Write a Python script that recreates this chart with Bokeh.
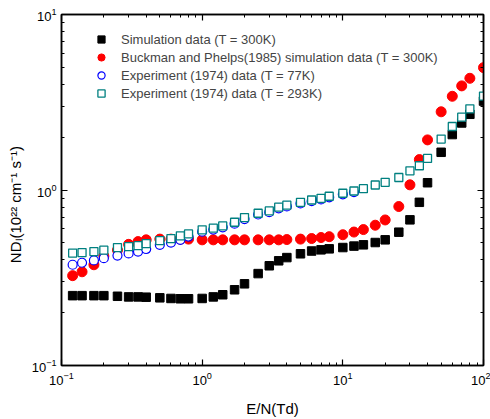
from bokeh.plotting import figure
from bokeh.models import (LogAxis, FixedTicker, LogTickFormatter, Legend, LegendItem, Range1d)
from bokeh.embed import file_html
from bokeh.resources import INLINE

# ---------------- data ----------------
en = [0.12, 0.14, 0.17, 0.2, 0.25, 0.3, 0.35, 0.4, 0.5, 0.6, 0.7, 0.8, 1.0,
      1.2, 1.4, 1.7, 2.0, 2.5, 3.0, 3.5, 4.0, 5.0, 6.0, 7.0, 8.0, 10.0,
      12.0, 14.0, 17.0, 20.0, 25.0, 30.0, 35.0, 40.0, 50.0, 60.0, 70.0, 80.0, 100.0]
sim_300 = [0.25, 0.25, 0.25, 0.25, 0.248, 0.246, 0.246, 0.245, 0.243, 0.241, 0.24, 0.24, 0.241,
           0.246, 0.253, 0.27, 0.292, 0.334, 0.37, 0.395, 0.412, 0.433, 0.449, 0.456, 0.462, 0.47,
           0.479, 0.487, 0.502, 0.52, 0.575, 0.676, 0.851, 1.10, 1.64, 2.07, 2.41, 2.70, 3.21]
bp_300 = [0.325, 0.342, 0.375, 0.42, 0.455, 0.49, 0.508, 0.52, 0.525, 0.525, 0.525, 0.525, 0.52,
          0.52, 0.52, 0.52, 0.52, 0.52, 0.52, 0.52, 0.522, 0.525, 0.529, 0.536, 0.542, 0.556,
          0.576, 0.595, 0.63, 0.675, 0.805, 1.07, 1.49, 1.93, 2.79, 3.42, 3.92, 4.33, 4.98]
en_77 = [0.12, 0.14, 0.17, 0.2, 0.25, 0.3, 0.35, 0.4, 0.5, 0.6, 0.7, 0.8, 1.0,
         1.2, 1.4, 1.7, 2.0, 2.5, 3.0, 3.5, 4.0, 5.0, 6.0, 7.0, 8.0, 10.0, 12.0]
exp_77 = [0.375, 0.385, 0.397, 0.409, 0.423, 0.435, 0.446, 0.461, 0.487, 0.502, 0.52, 0.543, 0.579,
          0.595, 0.613, 0.643, 0.683, 0.725, 0.748, 0.786, 0.806, 0.838, 0.864, 0.884, 0.908, 0.945, 0.973]
exp_293 = [0.437, 0.440, 0.446, 0.454, 0.470, 0.476, 0.482, 0.495, 0.515, 0.529, 0.548, 0.562, 0.593,
           0.606, 0.624, 0.655, 0.696, 0.737, 0.760, 0.798, 0.819, 0.851, 0.877, 0.897, 0.921, 0.958,
           0.987, 1.017, 1.068, 1.106, 1.178, 1.286, 1.375, 1.513, 1.95, 2.30, 2.60, 2.90, 3.43]

x_major = [0.1, 1, 10, 100]
y_major = [0.1, 1, 10]
x_minor = [m * d for d in [0.1, 1, 10] for m in range(2, 10)]
y_minor = [m * d for d in [0.1, 1] for m in range(2, 10)]

labels = ["Simulation data (T = 300K)",
          "Buckman and Phelps(1985) simulation data (T = 300K)",
          "Experiment (1974) data (T = 77K)",
          "Experiment (1974) data (T = 293K)"]
x_title = "E/N(Td)"
y_title = "ND\u2097(10\u00b2\u00b2 cm\u207b\u00b9 s\u207b\u00b9)"
y_title_pad = "\u00a0" * 7   # non-breaking spaces nudge the centred title toward the bottom

FONT = "Liberation Sans"
W, H = 490, 419
ML, MR, MT, MB = 61, 7, 14, 53

p = figure(width=W, height=H, x_axis_type="log", y_axis_type="log",
           x_range=Range1d(0.1, 100), y_range=Range1d(0.1, 10),
           output_backend="svg", toolbar_location=None,
           min_border_left=ML, min_border_right=MR, min_border_top=MT, min_border_bottom=MB)
p.xgrid.visible = False
p.ygrid.visible = False
p.outline_line_color = "black"
p.outline_line_width = 1.5
p.background_fill_color = "white"
p.border_fill_color = "white"

bottom_ax = p.below[0]
left_ax = p.left[0]
top_ax = LogAxis()
right_ax = LogAxis()
p.add_layout(top_ax, "above")
p.add_layout(right_ax, "right")

for ax in [bottom_ax, top_ax]:
    ax.ticker = FixedTicker(ticks=x_major, minor_ticks=x_minor)
for ax in [left_ax, right_ax]:
    ax.ticker = FixedTicker(ticks=y_major, minor_ticks=y_minor)

for ax in [bottom_ax, left_ax, top_ax, right_ax]:
    ax.formatter = LogTickFormatter()
    ax.major_tick_in = 6
    ax.major_tick_out = 0
    ax.minor_tick_in = 3
    ax.minor_tick_out = 0
    ax.axis_line_width = 1.5
    ax.major_tick_line_width = 1.2
    ax.minor_tick_line_width = 1.0
    ax.major_label_text_font = FONT
    ax.major_label_text_font_size = "13px"
    ax.major_label_text_color = "black"

for ax in [top_ax, right_ax]:
    ax.major_label_text_font_size = "1px"
    ax.major_label_text_alpha = 0
    ax.major_label_standoff = 0

bottom_ax.major_label_standoff = 6
left_ax.major_label_standoff = 5
bottom_ax.axis_label = x_title
bottom_ax.axis_label_standoff = 12
left_ax.axis_label = y_title + y_title_pad
left_ax.axis_label_standoff = 5
for ax in [bottom_ax, left_ax]:
    ax.axis_label_text_font = FONT
    ax.axis_label_text_font_size = "15px"
    ax.axis_label_text_font_style = "normal"
    ax.axis_label_text_color = "black"

r1 = p.scatter(en, sim_300, marker="square", size=8.5, fill_color="black", line_color="black")
r2 = p.scatter(en, bp_300, marker="circle", size=10, fill_color="#ff0000", line_color="#ff0000")
r3 = p.scatter(en_77, exp_77, marker="circle", size=9, fill_color="white", line_color="#0000ff", line_width=1.2)
r4 = p.scatter(en, exp_293, marker="square", size=8, fill_color="white", line_color="#008080", line_width=1.3)

legend = Legend(items=[LegendItem(label=l, renderers=[r]) for l, r in zip(labels, [r1, r2, r3, r4])],
                location=(26, 258), border_line_alpha=0, background_fill_alpha=0,
                label_text_font=FONT, label_text_font_size="13px",
                glyph_width=18, glyph_height=18, label_height=18, spacing=0,
                padding=5, label_standoff=11, margin=0)
p.add_layout(legend, "center")

open("out.html", "w").write(file_html(p, INLINE))
